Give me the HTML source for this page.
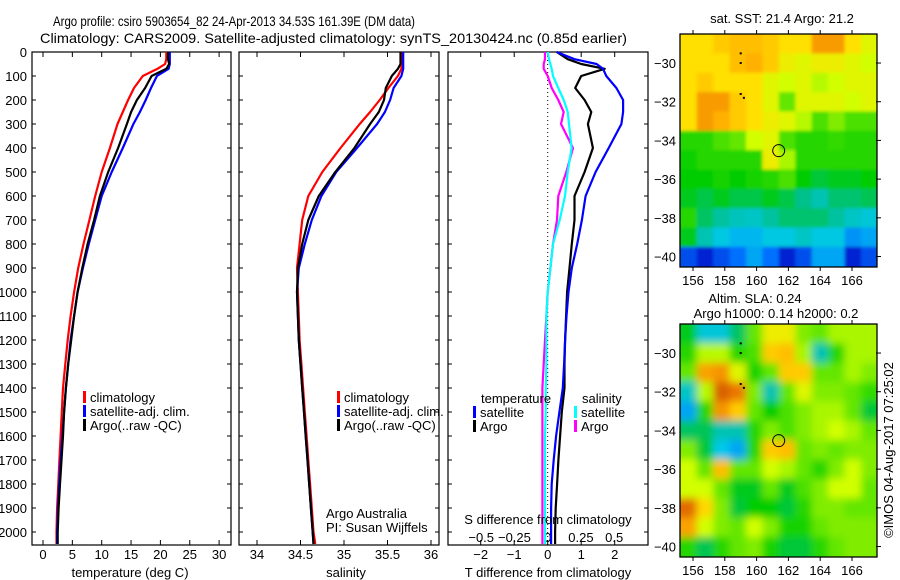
<!DOCTYPE html>
<html><head><meta charset="utf-8"><style>
body{margin:0;background:#fff}
svg{display:block;font-family:"Liberation Sans",sans-serif;}
text{fill:#000;font-size:13px}
</style></head><body>
<svg id="s" width="900" height="580" viewBox="0 0 900 580">
<defs>
<clipPath id="c1"><rect x="680" y="34" width="197" height="233"/></clipPath>
<clipPath id="c2"><rect x="680" y="324" width="197" height="233"/></clipPath>
<filter id="bl" x="-10%" y="-10%" width="120%" height="120%"><feGaussianBlur stdDeviation="4"/></filter>
<filter id="bl2" x="-10%" y="-10%" width="120%" height="120%"><feGaussianBlur stdDeviation="1.5"/></filter>
</defs>
<text x="53" y="26" style="font-size:14px" textLength="362" lengthAdjust="spacingAndGlyphs">Argo profile: csiro 5903654_82 24-Apr-2013 34.53S 161.39E (DM data)</text>
<text x="40" y="43" style="font-size:14px" textLength="587" lengthAdjust="spacingAndGlyphs">Climatology: CARS2009. Satellite-adjusted climatology: synTS_20130424.nc (0.85d earlier)</text>
<g id="g"></g>
</svg>
<script>
const depths=[0,30,50,70,100,150,200,250,300,400,500,600,700,800,900,1000,1100,1200,1300,1400,1500,1600,1700,1800,1900,2000,2050];
const tempClim=[21,21,20.8,19.5,17,15.5,14.5,13.6,12.7,11.4,10.0,8.9,7.9,6.9,6.0,5.3,4.7,4.2,3.8,3.4,3.2,3.0,2.8,2.6,2.4,2.3,2.3];
const tempSat=[21.6,21.6,21.6,21.4,19.4,18.4,17.5,16.5,15.4,13.6,11.7,10.0,8.9,7.8,6.8,5.9,5.3,4.7,4.3,3.9,3.6,3.3,3.0,2.75,2.55,2.4,2.4];
const tempArgo=[21.3,21.3,21.5,21.0,18.5,17.4,16.0,15.0,14.3,12.8,11.1,9.7,8.7,7.6,6.7,5.9,5.3,4.8,4.3,3.9,3.6,3.4,3.15,2.9,2.65,2.5,2.5];
const salClim=[35.66,35.66,35.66,35.66,35.62,35.51,35.41,35.30,35.18,34.96,34.75,34.59,34.52,34.49,34.46,34.47,34.48,34.49,34.51,34.53,34.55,34.57,34.59,34.61,34.63,34.65,34.67];
const salSat=[35.68,35.68,35.68,35.68,35.66,35.57,35.53,35.47,35.38,35.15,34.91,34.74,34.63,34.55,34.48,34.46,34.47,34.48,34.50,34.52,34.54,34.56,34.58,34.60,34.62,34.64,34.65];
const salArgo=[35.65,35.65,35.65,35.62,35.55,35.48,35.46,35.40,35.30,35.12,34.90,34.71,34.59,34.52,34.47,34.46,34.47,34.48,34.50,34.52,34.54,34.56,34.58,34.60,34.62,34.64,34.65];
const tdSat=[0.27,0.8,1.46,1.65,1.75,2.05,2.25,2.25,2.2,1.82,1.43,1.13,1.02,0.88,0.72,0.62,0.56,0.52,0.49,0.45,0.35,0.25,0.18,0.12,0.1,0.1,0.1];
const tdArgo=[0.27,0.6,1.0,1.7,1.0,0.82,1.1,1.3,1.2,1.35,1.1,0.8,0.8,0.72,0.65,0.58,0.55,0.52,0.5,0.5,0.42,0.37,0.32,0.28,0.24,0.22,0.22];
const sdSat=[0,0.01,0.02,0.03,0.04,0.08,0.12,0.15,0.16,0.18,0.15,0.13,0.09,0.04,0.02,0,-0.01,-0.01,-0.01,-0.015,-0.015,-0.02,-0.02,-0.02,-0.02,-0.02,-0.02];
const sdArgo=[-0.02,-0.02,-0.03,-0.03,0,0.03,0.08,0.12,0.1,0.19,0.14,0.08,0.07,0.04,0.02,0,-0.01,-0.02,-0.03,-0.04,-0.04,-0.04,-0.04,-0.04,-0.04,-0.04,-0.04];
const depthTicks=[0,100,200,300,400,500,600,700,800,900,1000,1100,1200,1300,1400,1500,1600,1700,1800,1900,2000];
const tempTicks=[0,5,10,15,20,25,30];
const salTicks=[34,34.5,35,35.5,36];
const tdTicks=[-2,-1,0,1,2];
const sdTicks=[-0.5,-0.25,0,0.25,0.5];
const lonTicks=[156,158,160,162,164,166];
const latTicks=[-30,-32,-34,-36,-38,-40];
const sstGrid=[
[0.75,0.75,0.78,0.8,0.8,0.78,0.75,0.75,0.85,0.85,0.75,0.7],
[0.75,0.75,0.75,0.8,0.82,0.78,0.72,0.7,0.72,0.72,0.7,0.68],
[0.75,0.78,0.75,0.75,0.75,0.7,0.68,0.7,0.66,0.68,0.7,0.7],
[0.75,0.85,0.85,0.78,0.75,0.7,0.6,0.7,0.7,0.7,0.68,0.7],
[0.75,0.85,0.82,0.78,0.75,0.72,0.7,0.66,0.58,0.62,0.58,0.58],
[0.55,0.55,0.58,0.6,0.68,0.7,0.58,0.55,0.55,0.56,0.55,0.55],
[0.53,0.55,0.55,0.55,0.55,0.72,0.65,0.55,0.55,0.55,0.55,0.55],
[0.52,0.52,0.54,0.52,0.54,0.55,0.58,0.52,0.48,0.5,0.5,0.52],
[0.5,0.47,0.5,0.47,0.47,0.5,0.47,0.42,0.38,0.44,0.44,0.46],
[0.55,0.45,0.4,0.37,0.36,0.4,0.44,0.44,0.44,0.4,0.36,0.34],
[0.5,0.38,0.33,0.3,0.3,0.33,0.33,0.36,0.33,0.33,0.26,0.28],
[0.18,0.12,0.18,0.22,0.28,0.22,0.12,0.18,0.28,0.28,0.12,0.18]];
const slaGrid=[
[0.5,0.34,0.34,0.45,0.6,0.72,0.72,0.62,0.6,0.65,0.65,0.65],
[0.55,0.66,0.66,0.55,0.58,0.78,0.8,0.65,0.38,0.55,0.65,0.65],
[0.6,0.84,0.86,0.7,0.54,0.6,0.78,0.78,0.6,0.6,0.65,0.62],
[0.36,0.66,0.94,0.9,0.62,0.38,0.6,0.7,0.62,0.62,0.6,0.56],
[0.28,0.55,0.86,0.78,0.6,0.52,0.58,0.62,0.65,0.65,0.6,0.48],
[0.45,0.46,0.38,0.38,0.55,0.62,0.58,0.62,0.65,0.68,0.65,0.6],
[0.62,0.48,0.32,0.28,0.55,0.78,0.8,0.6,0.62,0.6,0.62,0.62],
[0.68,0.6,0.8,0.6,0.6,0.68,0.65,0.6,0.55,0.62,0.68,0.62],
[0.68,0.68,0.6,0.5,0.5,0.6,0.5,0.58,0.62,0.68,0.68,0.6],
[0.92,0.76,0.62,0.48,0.52,0.52,0.48,0.55,0.62,0.62,0.6,0.6],
[0.84,0.68,0.62,0.6,0.68,0.62,0.54,0.54,0.6,0.62,0.62,0.62],
[0.55,0.46,0.55,0.6,0.62,0.54,0.48,0.48,0.55,0.6,0.62,0.62]];

const NS='http://www.w3.org/2000/svg';
const G=document.getElementById('g');
function mk(tag,at,parent){const e=document.createElementNS(NS,tag);for(const k in at)e.setAttribute(k,at[k]);(parent||G).appendChild(e);return e;}
function txt(x,y,s,anchor,parent){const e=mk('text',{x:x,y:y,'text-anchor':anchor||'start'},parent);e.textContent=s;return e;}
const yD=d=>52+d*0.24;
const xT=t=>43+t*5.87;
const xS=s=>257+(s-34)*87;
const xTd=t=>547.7+t*33.5;
const xSd=s=>547.7+s*133;

function panel(x0,x1,name){
  const r=mk('rect',{x:x0,y:52,width:x1-x0,height:493,fill:'none',stroke:'#000','stroke-width':1.2});
  
  
  depthTicks.forEach(d=>{
    mk('line',{x1:x0,x2:x0+4,y1:yD(d),y2:yD(d),stroke:'#000'});
    mk('line',{x1:x1-4,x2:x1,y1:yD(d),y2:yD(d),stroke:'#000'});
  });
}
function xticks(vals,fx,name,labels,ly){
  vals.forEach(v=>{
    mk('line',{x1:fx(v),x2:fx(v),y1:52,y2:57,stroke:'#000'});
    mk('line',{x1:fx(v),x2:fx(v),y1:540,y2:545,stroke:'#000'});
    if(labels){const t=txt(fx(v),ly||559,String(v).replace('-','\u2212'),'middle');
      
      }
  });
}
function line(xs,fx,color,name,w){
  const pts=depths.map((d,i)=>fx(xs[i]).toFixed(1)+','+yD(d).toFixed(1)).join(' ');
  const p=mk('polyline',{points:pts,fill:'none',stroke:color,'stroke-width':w||2.2,'stroke-linejoin':'round'});
  
  
}
function legend(x,y,color,label,name){
  mk('rect',{x:x,y:y-11,width:3,height:12,fill:color});
  const t=txt(x+7,y,label);
  
  
}
panel(32,231,'temperature-panel');
depthTicks.forEach(d=>{const t=txt(27,yD(d)+5,String(d),'end');
  
  });
xticks(tempTicks,xT,'temperature-tick-label',true);
line(tempClim,xT,'#f00','temperature-climatology-line');
line(tempSat,xT,'#00f','temperature-satellite-line');
line(tempArgo,xT,'#000','temperature-argo-line');
let t=txt(130,577,'temperature (deg C)','middle');


legend(83,402,'#f00','climatology','legend-climatology');
legend(83,416,'#00f','satellite-adj. clim.','legend-satellite-adj');
legend(83,430,'#000','Argo(..raw -QC)','legend-argo');
panel(239,439,'salinity-panel');
xticks(salTicks,xS,'salinity-tick-label',true);
line(salClim,xS,'#f00','salinity-climatology-line');
line(salSat,xS,'#00f','salinity-satellite-line');
line(salArgo,xS,'#000','salinity-argo-line');
t=txt(346,577,'salinity','middle');


legend(337,402,'#f00','climatology','legend-climatology-2');
legend(337,416,'#00f','satellite-adj. clim.','legend-satellite-adj-2');
legend(337,430,'#000','Argo(..raw -QC)','legend-argo-2');
t=txt(326,518,'Argo Australia');


t=txt(326,532,'PI: Susan Wijffels');


panel(448,648,'difference-panel');
xticks(tdTicks,xTd,'t-diff-tick-label',true);
sdTicks.forEach(v=>{const tt=txt(xSd(v),542,String(v).replace('-','\u2212'),'middle');
  
  });
const zl=mk('line',{x1:xTd(0),x2:xTd(0),y1:52,y2:545,stroke:'#000','stroke-dasharray':'1,3'});


line(sdArgo,xSd,'#f0f','salinity-argo-diff-line');
line(sdSat,xSd,'#0ff','salinity-satellite-diff-line');
line(tdArgo,xTd,'#000','temperature-argo-diff-line');
line(tdSat,xTd,'#00f','temperature-satellite-diff-line');
t=txt(548,524,'S difference from climatology','middle');


t=txt(548,577,'T difference from climatology','middle');


t=txt(481,403,'temperature');


t=txt(582,403,'salinity');


legend(473,417,'#00f','satellite','legend-t-satellite');
legend(473,431,'#000','Argo','legend-t-argo');
legend(574,417,'#0ff','satellite','legend-s-satellite');
legend(574,431,'#f0f','Argo','legend-s-argo');

const stops=[[0,[0,0,140]],[0.12,[0,32,210]],[0.22,[0,112,255]],[0.32,[0,200,235]],[0.42,[0,192,140]],[0.52,[0,205,0]],[0.6,[100,230,0]],[0.68,[210,255,0]],[0.75,[255,224,0]],[0.82,[255,176,0]],[0.9,[235,120,0]],[1,[190,60,0]]];
function cmap(v){for(let i=1;i<stops.length;i++){if(v<=stops[i][0]){const a=stops[i-1],b=stops[i],f=(v-a[0])/(b[0]-a[0]);
  return 'rgb('+a[1].map((c,k)=>Math.round(c+(b[1][k]-c)*f)).join(',')+')';}}return 'rgb(190,60,0)';}
function mapPanel(grid,ytop,clip,filt,name,nameCell){
  const xL=lon=>693+(lon-156)*15.9;
  const yL=lat=>ytop+(-28.5-lat)*19.35;
  const g=mk('g',{'clip-path':'url(#'+clip+')'});
  
  
  mk('rect',{x:670,y:ytop-10,width:220,height:255,fill:cmap(grid[5][6])},g);
  const inner=mk('g',{filter:'url(#'+filt+')'},g);
  const cw=12.4/12;
  grid.forEach((row,r)=>row.forEach((v,c)=>{
    const lon0=155.2+c*cw;const lat0=-28.5-r;
    const ex0=c==0?-8:0, ex1=c==11?8:0, ey0=r==0?-8:0, ey1=r==11?8:0;
    const cell=mk('rect',{x:xL(lon0)+ex0,y:yL(lat0)+ey0,width:xL(lon0+cw)-xL(lon0)+0.6-ex0+ex1,height:19.35+0.6-ey0+ey1,fill:cmap(v)},inner);
    
    
  }));
  mk('rect',{x:680,y:ytop,width:197,height:233,fill:'none',stroke:'#000','stroke-width':1.3});
  lonTicks.forEach(l=>{mk('line',{x1:xL(l),x2:xL(l),y1:ytop-4,y2:ytop,stroke:'#000'});
    mk('line',{x1:xL(l),x2:xL(l),y1:ytop+233,y2:ytop+237,stroke:'#000'});
    const tt=txt(xL(l),ytop+251,String(l),'middle');
    
    });
  latTicks.forEach(l=>{mk('line',{x1:876,x2:881,y1:yL(l),y2:yL(l),stroke:'#000'});
    const tt=txt(676,yL(l)+5,'\u2212'+String(-l),'end');
    
    });
  const c=mk('circle',{cx:xL(161.39),cy:yL(-34.53),r:6,fill:'none',stroke:'#000','stroke-width':1});
  
  
  [[159,-29.5],[159,-30],[159,-31.6],[159.2,-31.8]].forEach(p=>mk('rect',{x:xL(p[0])-1,y:yL(p[1])-1,width:2,height:2,fill:'#000'}));
}
mapPanel(sstGrid,34,'c1','bl2','sst-map','sst-cell');
mapPanel(slaGrid,324,'c2','bl','sla-map','sla-cell');
t=txt(782,23,'sat. SST: 21.4 Argo: 21.2','middle');


t=txt(755,303,'Altim. SLA: 0.24','middle');


t=txt(776,318,'Argo h1000: 0.14 h2000: 0.2','middle');


t=txt(0,0,'\u00a9IMOS 04-Aug-2017 07:25:02','middle');
t.setAttribute('transform','translate(893,450) rotate(-90)');


</script>
</body></html>
